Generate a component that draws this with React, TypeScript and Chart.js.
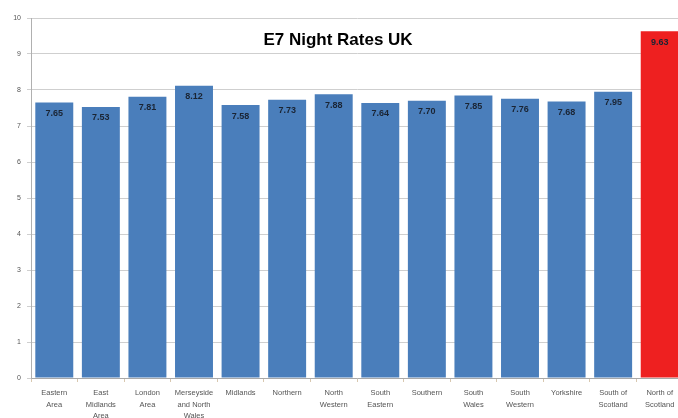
import React, { useEffect, useRef } from "react";
import { Chart, registerables } from "chart.js";

Chart.register(...registerables);

const categories: string[][] = [
  ["Eastern", "Area"],
  ["East", "Midlands", "Area"],
  ["London", "Area"],
  ["Merseyside", "and North", "Wales"],
  ["Midlands"],
  ["Northern"],
  ["North", "Western"],
  ["South", "Eastern"],
  ["Southern"],
  ["South", "Wales"],
  ["South", "Western"],
  ["Yorkshire"],
  ["South of", "Scotland"],
  ["North of", "Scotland"],
];

const rates: number[] = [7.65, 7.53, 7.81, 8.12, 7.58, 7.73, 7.88, 7.64, 7.7, 7.85, 7.76, 7.68, 7.95, 9.63];

const yTickValues: number[] = [0, 1, 2, 3, 4, 5, 6, 7, 8, 9, 10];

const chartTitle = "E7 Night Rates UK";

const BLUE = "#4a7ebb";
const RED = "#ee2020";
const FONT = '"Liberation Sans", Arial, sans-serif';

const valueLabelPlugin = {
  id: "valueLabels",
  afterDatasetsDraw(chart: any) {
    const ctx = chart.ctx;
    const meta = chart.getDatasetMeta(0);
    ctx.save();
    ctx.font = `bold 9px ${FONT}`;
    ctx.fillStyle = "#1a2433";
    ctx.textAlign = "center";
    ctx.textBaseline = "middle";
    meta.data.forEach((bar: any, i: number) => {
      ctx.fillText(rates[i].toFixed(2), bar.x, bar.y + 11);
    });
    ctx.restore();
  },
};

const titlePlugin = {
  id: "innerTitle",
  afterDraw(chart: any) {
    const ctx = chart.ctx;
    ctx.save();
    ctx.font = `bold 17px ${FONT}`;
    ctx.fillStyle = "#000";
    ctx.textAlign = "center";
    ctx.textBaseline = "middle";
    ctx.fillText(chartTitle, 338, 40);
    ctx.restore();
  },
};

export default function App() {
  const ref = useRef<HTMLCanvasElement>(null);
  useEffect(() => {
    document.body.style.margin = "0";
    const chart = new Chart(ref.current!, {
      type: "bar",
      data: {
        labels: categories,
        datasets: [
          {
            data: rates,
            backgroundColor: rates.map((_, i) => (i === rates.length - 1 ? RED : BLUE)),
            barPercentage: 0.815,
            categoryPercentage: 1,
            borderWidth: 0,
          },
        ],
      },
      options: {
        animation: false,
        responsive: false,
        maintainAspectRatio: false,
        layout: { padding: { top: 18, right: 1, left: 0, bottom: 0 } },
        plugins: {
          legend: { display: false },
          tooltip: { enabled: false },
          title: { display: false },
        },
        scales: {
          x: {
            grid: { display: true, drawOnChartArea: false, tickLength: 4, color: "#d8c8b0" },
            border: { color: "#a8a8a8" },
            ticks: {
              font: { size: 7.5, family: FONT, lineHeight: 1.55 },
              color: "#555",
              maxRotation: 0,
              minRotation: 0,
              autoSkip: false,
              padding: 5,
            },
            afterFit: (s: any) => {
              s.height = 40;
            },
          },
          y: {
            min: 0,
            max: 10,
            afterBuildTicks: (s: any) => {
              s.ticks = yTickValues.map((v) => ({ value: v }));
            },
            ticks: {
              font: { size: 7, family: FONT },
              color: "#555",
              padding: 6,
            },
            grid: { color: "#cfcfcf", tickLength: 4 },
            border: { color: "#b0b0b0" },
            afterFit: (s: any) => {
              s.width = 31;
            },
          },
        },
      },
      plugins: [valueLabelPlugin, titlePlugin],
    });
    return () => chart.destroy();
  }, []);
  return (
    <div
      style={{
        position: "absolute",
        left: 0,
        top: 0,
        width: 678,
        height: 418,
        overflow: "hidden",
        background: "#fff",
      }}
    >
      <canvas ref={ref} width={684} height={418} style={{ display: "block", width: 684, height: 418 }} />
    </div>
  );
}
